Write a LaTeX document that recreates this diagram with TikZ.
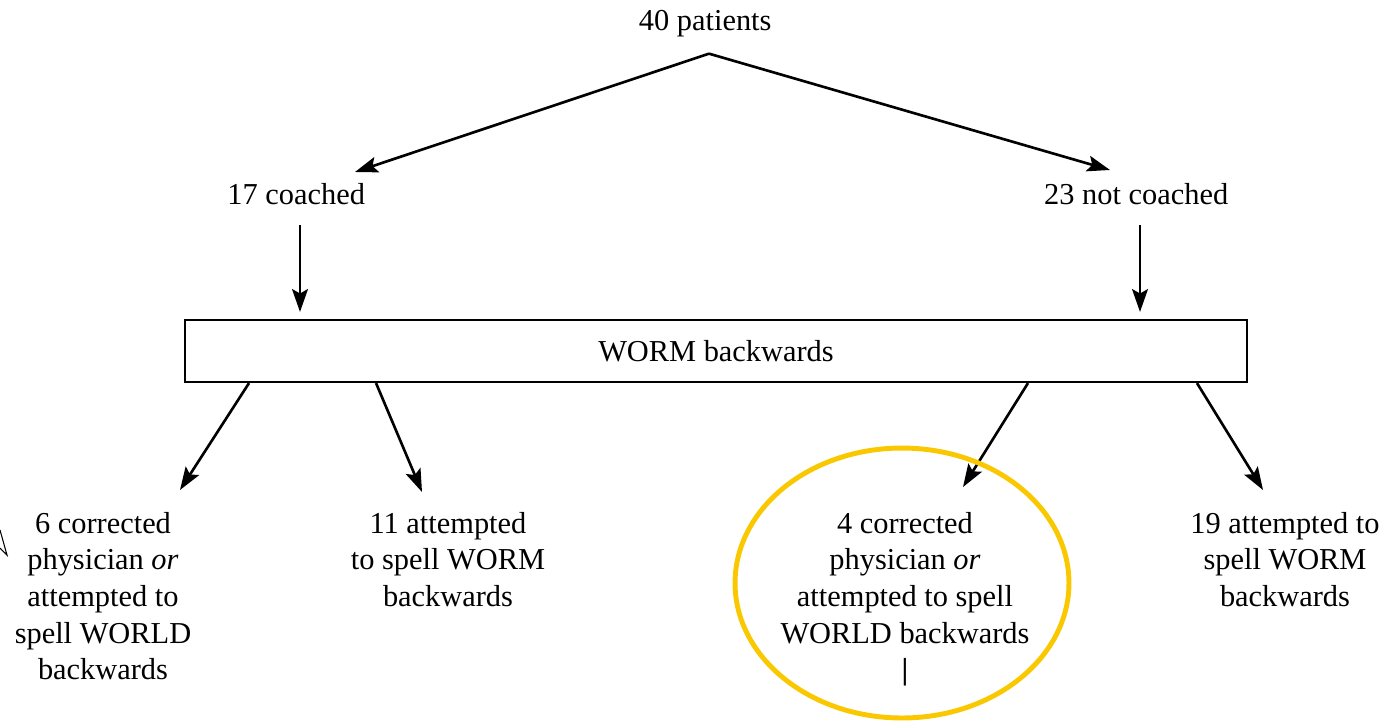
\documentclass[tikz,border=0pt]{standalone}
\usepackage{fontspec}
\setmainfont{Liberation Serif}
\usepackage{tikz}
\usetikzlibrary{arrows.meta,positioning,shapes}
\definecolor{marker}{RGB}{250,200,0}

\begin{document}
\begin{tikzpicture}[x=0.02cm,y=-0.02cm,
    font=\fontsize{17.3}{20.8}\selectfont,
    line width=1.5pt,
    arr/.style={-{Stealth[length=13pt,width=9pt,inset=2.5pt]}},
    txt/.style={inner sep=0pt,align=center}]

\useasboundingbox (0,0) rectangle (1392,721);

\node[txt] (patients) at (709,24) { 40 patients };
\coordinate[below=0.3cm of patients] (apex);

\node[txt] (coached) at (300,194) { 17 coached };
\node[txt] (notcoached) at (1140,194) { 23 not coached };

\node[draw,
    line width=1.2pt,
    minimum width=21.24cm,
    minimum height=1.24cm
] (worm) at (716,351) { WORM backwards };

\node[txt,
    anchor=north
] (corrA) at (103,511) { 6 corrected\\physician \emph{or}\\attempted to\\spell WORLD\\backwards };

\node[txt,
    anchor=north
] (attB) at (448,511) { 11 attempted\\to spell WORM\\backwards };

\node[txt,
    anchor=north
] (corrC) at (905,511) { 4 corrected\\physician \emph{or}\\attempted to spell\\WORLD backwards\\\textbf{|} };

\node[txt,
    anchor=north
] (attD) at (1285,511) { 19 attempted to\\spell WORM\\backwards };

\draw[arr] (apex) -- ([xshift=1.1cm,yshift=0.2cm]coached.north);
\draw[arr] (apex) -- ([xshift=-0.6cm,yshift=0.24cm]notcoached.north);

\draw[arr] ([yshift=-0.38cm]coached.south) -- ([yshift=0.14cm]coached.south |- worm.north);
\draw[arr] ([yshift=-0.38cm]notcoached.south) -- ([yshift=0.14cm]notcoached.south |- worm.north);

\draw[arr] ([xshift=1.3cm]worm.south west) -- ([xshift=1.54cm,yshift=0.42cm]corrA.north);
\draw[arr] ([xshift=3.84cm]worm.south west) -- ([xshift=-0.52cm,yshift=0.38cm]attB.north);
\draw[arr] ([xshift=-4.4cm]worm.south east) -- ([xshift=1.16cm,yshift=0.48cm]corrC.north);
\draw[arr] ([xshift=-1.02cm]worm.south east) -- ([xshift=-0.44cm,yshift=0.42cm]attD.north);

% highlight
\draw[marker,line width=2.8pt] (902,583) ellipse [x radius=3.34cm,y radius=2.7cm];
\draw[line width=0.6pt] (0,530) -- (7,555) -- (0,548);

\end{tikzpicture}
\end{document}
